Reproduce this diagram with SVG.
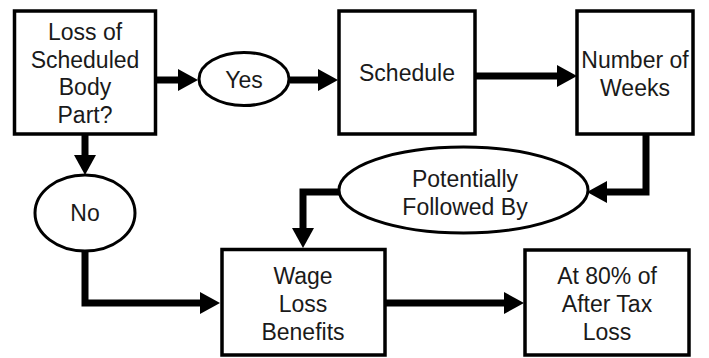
<svg xmlns="http://www.w3.org/2000/svg" width="709" height="358" viewBox="0 0 709 358">
<style>
.box{fill:#fff;stroke:#000;stroke-width:3.5}
.ell{fill:#fff;stroke:#000;stroke-width:3}
.t{font-family:"Liberation Sans",Arial,sans-serif;font-size:23px;fill:#1a1a1a;text-anchor:middle}
.c{fill:none;stroke:#000;stroke-width:7;stroke-linejoin:miter;stroke-linecap:butt;marker-end:url(#ah)}
</style>
<defs>
<marker id="ah" viewBox="0 0 20 22" refX="2" refY="11" markerWidth="20" markerHeight="22" markerUnits="userSpaceOnUse" orient="auto">
<path d="M0,0 L20,11 L0,22 z" fill="#000"/>
</marker>
</defs>
<rect width="709" height="358" fill="#fff"/>
<g id="connectors">
<path class="c" d="M156,80 H180"/>
<path class="c" d="M290,80 H320"/>
<path class="c" d="M475,76 H559"/>
<path class="c" d="M646,134 V192 H605"/>
<path class="c" d="M341,192 H303 V230"/>
<path class="c" d="M85,134 V157"/>
<path class="c" d="M85,250 V303 H202"/>
<path class="c" d="M385,303 H506"/>
</g>
<g id="n-loss">
<rect class="box" x="14.5" y="11" width="141" height="123"/>
<text class="t" x="85" y="40">Loss of</text>
<text class="t" x="85" y="68">Scheduled</text>
<text class="t" x="85" y="95">Body</text>
<text class="t" x="85" y="123">Part?</text>
</g>
<g id="n-yes">
<ellipse class="ell" cx="244" cy="79" rx="45" ry="26.5"/>
<text class="t" x="244" y="88">Yes</text>
</g>
<g id="n-schedule">
<rect class="box" x="339" y="11" width="136" height="123"/>
<text class="t" x="407" y="81">Schedule</text>
</g>
<g id="n-weeks">
<rect class="box" x="577" y="11" width="116" height="123"/>
<text class="t" x="635" y="68">Number of</text>
<text class="t" x="635" y="96">Weeks</text>
</g>
<g id="n-potentially">
<ellipse class="ell" cx="463.5" cy="190" rx="124.5" ry="43"/>
<text class="t" x="465" y="187">Potentially</text>
<text class="t" x="465" y="215">Followed By</text>
</g>
<g id="n-no">
<ellipse class="ell" cx="85" cy="213" rx="50" ry="38"/>
<text class="t" x="85" y="221">No</text>
</g>
<g id="n-wage">
<rect class="box" x="222" y="249.5" width="163" height="105.5"/>
<text class="t" x="303" y="284">Wage</text>
<text class="t" x="303" y="312">Loss</text>
<text class="t" x="303" y="340">Benefits</text>
</g>
<g id="n-rate">
<rect class="box" x="525" y="250" width="164" height="105"/>
<text class="t" x="607" y="284">At 80% of</text>
<text class="t" x="607" y="312">After Tax</text>
<text class="t" x="607" y="340">Loss</text>
</g>
</svg>
